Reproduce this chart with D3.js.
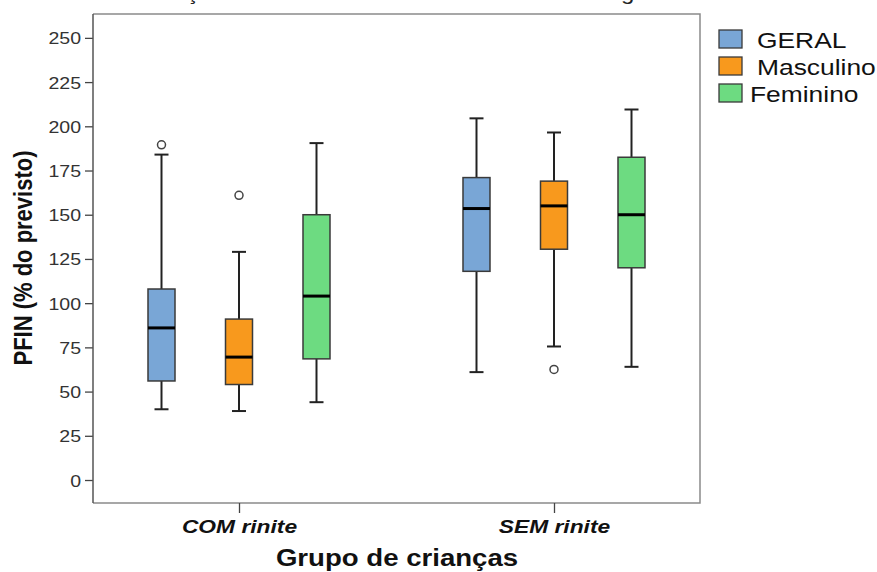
<!DOCTYPE html>
<html>
<head>
<meta charset="utf-8">
<script src="https://cdn.jsdelivr.net/npm/d3@7"></script>
<style>
  body { margin: 0; background: #fff; }
  svg { display: block; font-family: "Liberation Sans", Arial, sans-serif; }
</style>
</head>
<body>
<svg></svg>
<script>
const size = {w: 877, h: 572};
const frame = {l: 93, r: 700, t: 14, b: 503};

// data: [low whisker, Q1, median, Q3, high whisker]
const groups = ['COM rinite', 'SEM rinite'];
const series = ['GERAL', 'Masculino', 'Feminino'];
const colors = ['#79A6D6', '#F8991D', '#6DDB81'];
const geral = [[40, 56, 86, 108, 184], [61, 118, 153.5, 171, 204.5]];
const masculino = [[39, 54, 69.5, 91, 129], [75.5, 130.5, 155, 169, 196.5]];
const feminino = [[44, 68.5, 104, 150, 190.5], [64, 120, 150, 182.5, 209.5]];
const outGeral = [[189.5], []];
const outMasculino = [[161], [62.5]];
const outFeminino = [[], []];
const yTicks = [0, 25, 50, 75, 100, 125, 150, 175, 200, 225, 250];

const stats = [geral, masculino, feminino];
const outliers = [outGeral, outMasculino, outFeminino];

const svg = d3.select('svg').attr('width', size.w).attr('height', size.h);

const y = d3.scaleLinear().domain([-13, 263.5]).range([frame.b, frame.t]);
const x = d3.scalePoint().domain(groups).range([frame.l, frame.r]).padding(0.4635);
const xs = d3.scalePoint().domain(series).range([-77.5, 77.5]);
const boxW = 27, capW = 14;

// text is drawn a bit wider than normal, like the original export
function wideText(g, tx, ty, str, opts) {
    return g.append('text')
        .attr('transform', `translate(${tx},${ty}) scale(${opts.sx || 1.2},1)`)
        .attr('text-anchor', opts.anchor || 'start')
        .style('font-size', opts.size + 'px')
        .style('font-weight', opts.weight || 'normal')
        .style('font-style', opts.style || 'normal')
        .attr('fill', opts.fill || '#000')
        .text(str);
}

// title, mostly cut off above the picture
wideText(svg, 665, 0, 'crianças e adolescentes com e sem rinite alérgica', {size: 20, anchor: 'end', fill: '#222'});

// frame
svg.append('path')
    .attr('d', `M${frame.l},${frame.t}H${frame.r}V${frame.b}H${frame.l}`)
    .attr('fill', 'none').attr('stroke', '#8a8a8a').attr('stroke-width', 1.5);

// y axis
const yAxis = svg.append('g').attr('transform', `translate(${frame.l},0)`)
    .call(d3.axisLeft(y).tickValues(yTicks).tickSize(8).tickPadding(4).tickSizeOuter(0));
yAxis.select('.domain').remove();
yAxis.append('line').attr('y1', frame.t).attr('y2', frame.b)
    .attr('stroke', '#555').attr('stroke-width', 1.5);
yAxis.selectAll('.tick line').attr('stroke', '#444').attr('stroke-width', 1.3);
yAxis.selectAll('.tick text').remove();
yAxis.selectAll('.tick').each(function (d) {
    wideText(d3.select(this), -12, 6, d, {size: 17, anchor: 'end', fill: '#333', sx: 1.15});
});

// x axis
const xAxis = svg.append('g').attr('transform', `translate(0,${frame.b})`)
    .call(d3.axisBottom(x).tickSize(10).tickSizeOuter(0));
xAxis.select('.domain').remove();
xAxis.selectAll('.tick line').attr('stroke', '#444').attr('stroke-width', 1.3);
xAxis.selectAll('.tick text').remove();
xAxis.selectAll('.tick').each(function (d) {
    wideText(d3.select(this), 0, 30, d, {size: 19, anchor: 'middle', weight: 'bold', style: 'italic', fill: '#111'});
});

// axis titles
wideText(svg, 397, 566, 'Grupo de crianças', {size: 23, anchor: 'middle', weight: 'bold', fill: '#111'});
svg.append('text')
    .attr('transform', `translate(32,258) rotate(-90) scale(1,1.15)`)
    .attr('text-anchor', 'middle')
    .style('font-size', '22px').style('font-weight', 'bold')
    .attr('fill', '#111')
    .text('PFIN (% do previsto)');

// boxes
const plotG = svg.append('g').classed('boxes', true);
series.forEach((s, si) => {
    groups.forEach((grp, gi) => {
        const v = stats[si][gi];
        const cx = x(grp) + xs(s);
        const g = plotG.append('g');
        // whiskers
        g.append('line').attr('x1', cx).attr('x2', cx).attr('y1', y(v[0])).attr('y2', y(v[1]))
            .attr('stroke', '#222').attr('stroke-width', 2);
        g.append('line').attr('x1', cx).attr('x2', cx).attr('y1', y(v[3])).attr('y2', y(v[4]))
            .attr('stroke', '#222').attr('stroke-width', 2);
        [v[0], v[4]].forEach(w => {
            g.append('line').attr('x1', cx - capW / 2).attr('x2', cx + capW / 2)
                .attr('y1', y(w)).attr('y2', y(w))
                .attr('stroke', '#222').attr('stroke-width', 2);
        });
        // box
        g.append('rect')
            .attr('x', cx - boxW / 2).attr('width', boxW)
            .attr('y', y(v[3])).attr('height', y(v[1]) - y(v[3]))
            .attr('fill', colors[si]).attr('stroke', '#3a3a3a').attr('stroke-width', 1.5);
        // median
        g.append('line').attr('x1', cx - boxW / 2).attr('x2', cx + boxW / 2)
            .attr('y1', y(v[2])).attr('y2', y(v[2]))
            .attr('stroke', '#000').attr('stroke-width', 3);
        // outliers
        g.selectAll('circle').data(outliers[si][gi]).enter()
            .append('circle')
            .attr('cx', cx).attr('cy', d => y(d)).attr('r', 4)
            .attr('fill', '#fff').attr('stroke', '#444').attr('stroke-width', 1.5);
    });
});

// legend
const legend = svg.append('g').classed('legend', true);
const legY = d3.scalePoint().domain(series).range([30, 84]);
const legX = [757, 757, 750];
series.forEach((s, i) => {
    legend.append('rect')
        .attr('x', 719).attr('y', legY(s)).attr('width', 23).attr('height', 18)
        .attr('fill', colors[i]).attr('stroke', '#3a3a3a').attr('stroke-width', 1.3);
    wideText(legend, legX[i], legY(s) + 18, s, {size: 22, fill: '#111'});
});
</script>
</body>
</html>
